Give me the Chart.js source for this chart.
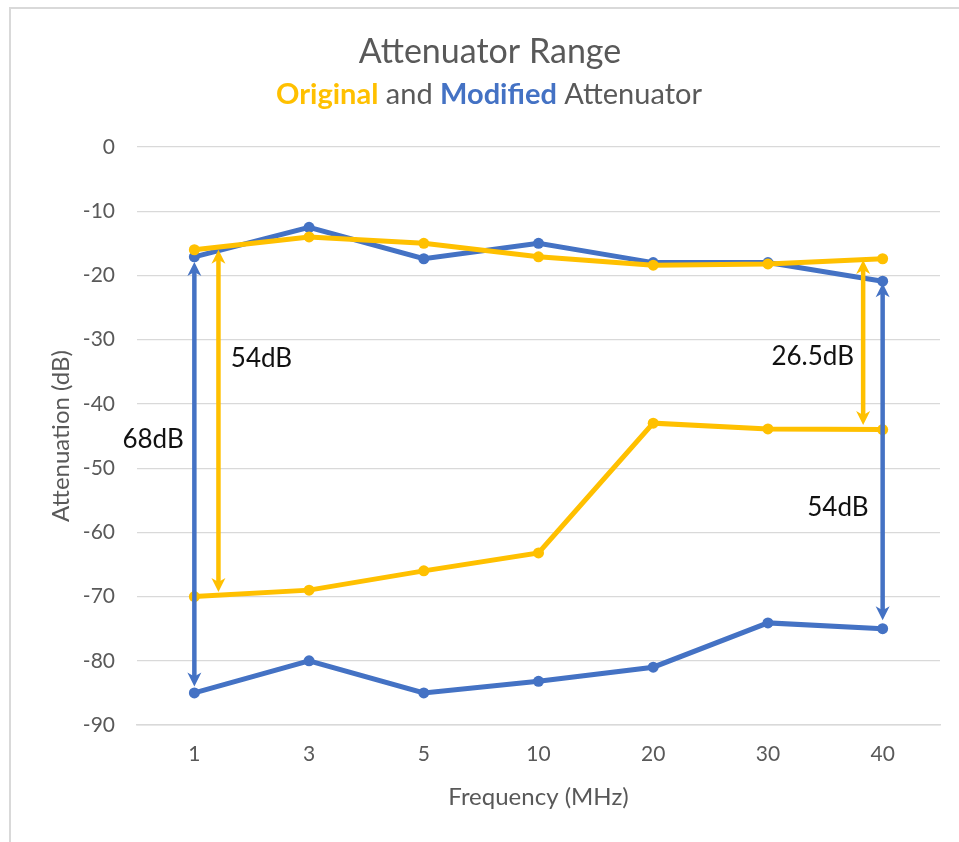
<!DOCTYPE html>
<html>
<head>
<meta charset="utf-8">
<script src="https://cdn.jsdelivr.net/npm/chart.js@4"></script>
<style>
  html, body { margin: 0; padding: 0; background: #fff; }
  canvas { display: block; }
</style>
</head>
<body>
<canvas id="c" width="959" height="842"></canvas>
<script>
// ---- data ----
const frequencies = ['1', '3', '5', '10', '20', '30', '40'];
const originalUpper = [-16, -14, -15, -17.1, -18.4, -18.2, -17.4];
const originalLower = [-70, -69, -66, -63.2, -43, -43.9, -44];
const modifiedUpper = [-17.1, -12.5, -17.4, -15, -18, -18, -20.9];
const modifiedLower = [-85, -80, -85, -83.2, -81, -74.1, -75];
const yTicks = [0, -10, -20, -30, -40, -50, -60, -70, -80, -90];

// range arrows (x in category index units, y in dB)
const arrowSeries = ['modified', 'original', 'original', 'modified'];
const arrowX = [0, 0.21, 5.83, 6.0];
const arrowFrom = [-17.9, -16.0, -17.6, -21.2];
const arrowTo = [-84.0, -69.3, -43.3, -73.7];

// range labels
const labelText = ['68dB', '54dB', '26.5dB', '54dB'];
const labelX = [-0.36, 0.585, 5.39, 5.61];
const labelY = [-45.6, -32.9, -32.6, -56.2];

const COLORS = { original: '#FFC000', modified: '#4472C4' };
const FONT = 'Lato, "Open Sans", sans-serif';
const GREY = '#595959';

function drawHead(ctx, x, yTip, dir, color) {
  const L = 14, W = 7, N = 4;
  ctx.fillStyle = color;
  ctx.beginPath();
  ctx.moveTo(x, yTip);
  ctx.lineTo(x - W, yTip - dir * L);
  ctx.lineTo(x, yTip - dir * (L - N));
  ctx.lineTo(x + W, yTip - dir * L);
  ctx.closePath();
  ctx.fill();
}

const decorPlugin = {
  id: 'decor',
  beforeDraw(chart) {
    const ctx = chart.ctx;
    ctx.save();
    ctx.strokeStyle = '#D9D9D9';
    ctx.lineWidth = 2;
    ctx.beginPath();
    ctx.moveTo(10, 842);
    ctx.lineTo(10, 8);
    ctx.lineTo(959, 8);
    ctx.stroke();
    ctx.restore();
  },
  afterDraw(chart) {
    const ctx = chart.ctx;
    const xs = chart.scales.x, ys = chart.scales.y;
    ctx.save();
    // title
    ctx.textBaseline = 'middle';
    ctx.textAlign = 'center';
    ctx.fillStyle = GREY;
    ctx.font = '34px ' + FONT;
    ctx.fillText('Attenuator Range', 490, 52);
    // subtitle (rich)
    const parts = [
      { t: 'Original', c: COLORS.original, b: true },
      { t: ' and ', c: GREY, b: false },
      { t: 'Modified', c: COLORS.modified, b: true },
      { t: ' Attenuator', c: GREY, b: false }
    ];
    const fs = 29;
    let total = 0;
    parts.forEach(p => {
      ctx.font = (p.b ? 'bold ' : '') + fs + 'px ' + FONT;
      p.w = ctx.measureText(p.t).width;
      total += p.w;
    });
    let x0 = 489 - total / 2;
    ctx.textAlign = 'left';
    parts.forEach(p => {
      ctx.font = (p.b ? 'bold ' : '') + fs + 'px ' + FONT;
      ctx.fillStyle = p.c;
      ctx.fillText(p.t, x0, 95);
      x0 += p.w;
    });

    // arrows
    for (let i = 0; i < arrowX.length; i++) {
      const color = COLORS[arrowSeries[i]];
      const x = xs.getPixelForValue(arrowX[i]);
      const y1 = ys.getPixelForValue(arrowFrom[i]);
      const y2 = ys.getPixelForValue(arrowTo[i]);
      ctx.strokeStyle = color;
      ctx.lineWidth = 4.5;
      ctx.beginPath();
      ctx.moveTo(x, y1 + 8);
      ctx.lineTo(x, y2 - 8);
      ctx.stroke();
      drawHead(ctx, x, y1, -1, color);
      drawHead(ctx, x, y2, 1, color);
    }

    // labels
    ctx.fillStyle = '#111';
    ctx.font = '26px ' + FONT;
    ctx.textAlign = 'center';
    ctx.textBaseline = 'middle';
    for (let i = 0; i < labelText.length; i++) {
      ctx.fillText(labelText[i], xs.getPixelForValue(labelX[i]), ys.getPixelForValue(labelY[i]));
    }
    ctx.restore();
  }
};

function lineDs(label, data, color) {
  return {
    label, data,
    borderColor: color,
    backgroundColor: color,
    borderWidth: 5,
    pointRadius: 5.5,
    pointBorderWidth: 0,
    pointBackgroundColor: color,
    tension: 0,
    fill: false
  };
}

new Chart(document.getElementById('c'), {
  type: 'line',
  data: {
    labels: frequencies,
    datasets: [
      lineDs('Original (max)', originalUpper, COLORS.original),
      lineDs('Original (min)', originalLower, COLORS.original),
      lineDs('Modified (max)', modifiedUpper, COLORS.modified),
      lineDs('Modified (min)', modifiedLower, COLORS.modified)
    ]
  },
  options: {
    responsive: false,
    animation: false,
    layout: { padding: { top: 147, right: 19, bottom: 0, left: 0 } },
    plugins: {
      legend: { display: false },
      title: { display: false },
      tooltip: { enabled: false }
    },
    scales: {
      x: {
        type: 'category',
        offset: true,
        grid: { display: false, drawTicks: false },
        border: { display: true, color: '#D9D9D9', width: 1.5 },
        ticks: { color: GREY, font: { family: FONT, size: 21 }, padding: 17, maxRotation: 0 },
        title: { display: true, text: 'Frequency (MHz)', color: GREY, font: { family: FONT, size: 24 }, padding: { top: 0, bottom: 30 } },
        afterFit(scale) { scale.height = 117; }
      },
      y: {
        min: -90, max: 0,
        afterBuildTicks(scale) { scale.ticks = yTicks.map(v => ({ value: v })); },
        grid: { color: '#D9D9D9', lineWidth: 1.2, drawTicks: false },
        border: { display: false },
        ticks: { color: GREY, font: { family: FONT, size: 21 }, padding: 22 },
        title: { display: true, text: 'Attenuation (dB)', color: GREY, font: { family: FONT, size: 24 }, padding: { top: 47, bottom: 0 } },
        afterFit(scale) { scale.width = 137; }
      }
    }
  },
  plugins: [decorPlugin]
});
</script>
</body>
</html>
